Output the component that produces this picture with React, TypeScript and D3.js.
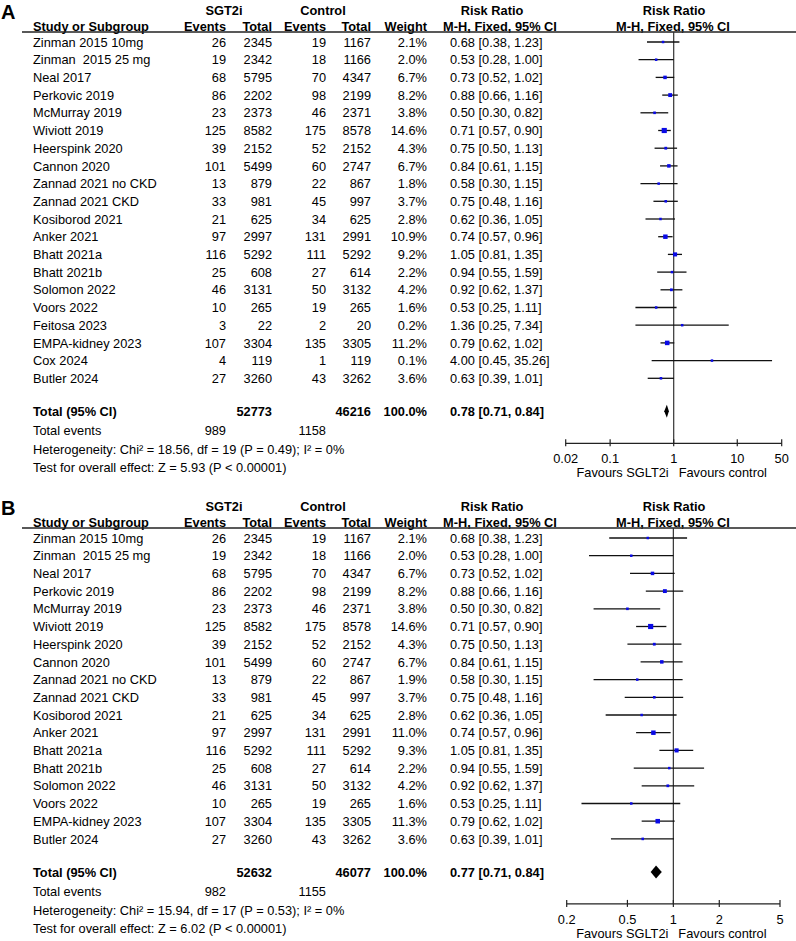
import * as d3 from 'd3'

// ---- panel A data ----
const studiesA = [
  'Zinman 2015 10mg', 'Zinman  2015 25 mg', 'Neal 2017', 'Perkovic 2019', 'McMurray 2019',
  'Wiviott 2019', 'Heerspink 2020', 'Cannon 2020', 'Zannad 2021 no CKD', 'Zannad 2021 CKD',
  'Kosiborod 2021', 'Anker 2021', 'Bhatt 2021a', 'Bhatt 2021b', 'Solomon 2022',
  'Voors 2022', 'Feitosa 2023', 'EMPA-kidney 2023', 'Cox 2024', 'Butler 2024',
]
const evTreatA = [26, 19, 68, 86, 23, 125, 39, 101, 13, 33, 21, 97, 116, 25, 46, 10, 3, 107, 4, 27]
const nTreatA = [2345, 2342, 5795, 2202, 2373, 8582, 2152, 5499, 879, 981, 625, 2997, 5292, 608, 3131, 265, 22, 3304, 119, 3260]
const evCtrlA = [19, 18, 70, 98, 46, 175, 52, 60, 22, 45, 34, 131, 111, 27, 50, 19, 2, 135, 1, 43]
const nCtrlA = [1167, 1166, 4347, 2199, 2371, 8578, 2152, 2747, 867, 997, 625, 2991, 5292, 614, 3132, 265, 20, 3305, 119, 3262]
const weightA = [2.1, 2.0, 6.7, 8.2, 3.8, 14.6, 4.3, 6.7, 1.8, 3.7, 2.8, 10.9, 9.2, 2.2, 4.2, 1.6, 0.2, 11.2, 0.1, 3.6]
const rrA = [0.68, 0.53, 0.73, 0.88, 0.50, 0.71, 0.75, 0.84, 0.58, 0.75, 0.62, 0.74, 1.05, 0.94, 0.92, 0.53, 1.36, 0.79, 4.00, 0.63]
const loA = [0.38, 0.28, 0.52, 0.66, 0.30, 0.57, 0.50, 0.61, 0.30, 0.48, 0.36, 0.57, 0.81, 0.55, 0.62, 0.25, 0.25, 0.62, 0.45, 0.39]
const hiA = [1.23, 1.00, 1.02, 1.16, 0.82, 0.90, 1.13, 1.15, 1.15, 1.16, 1.05, 0.96, 1.35, 1.59, 1.37, 1.11, 7.34, 1.02, 35.26, 1.01]
const totalA = { nT: 52773, nC: 46216, rr: 0.78, lo: 0.71, hi: 0.84, evT: 989, evC: 1158 }
const hetA = 'Heterogeneity: Chi² = 18.56, df = 19 (P = 0.49); I² = 0%'
const testA = 'Test for overall effect: Z = 5.93 (P < 0.00001)'
const ticksA = [0.02, 0.1, 1, 10, 50]

// ---- panel B data ----
const studiesB = [
  'Zinman 2015 10mg', 'Zinman  2015 25 mg', 'Neal 2017', 'Perkovic 2019', 'McMurray 2019',
  'Wiviott 2019', 'Heerspink 2020', 'Cannon 2020', 'Zannad 2021 no CKD', 'Zannad 2021 CKD',
  'Kosiborod 2021', 'Anker 2021', 'Bhatt 2021a', 'Bhatt 2021b', 'Solomon 2022',
  'Voors 2022', 'EMPA-kidney 2023', 'Butler 2024',
]
const evTreatB = [26, 19, 68, 86, 23, 125, 39, 101, 13, 33, 21, 97, 116, 25, 46, 10, 107, 27]
const nTreatB = [2345, 2342, 5795, 2202, 2373, 8582, 2152, 5499, 879, 981, 625, 2997, 5292, 608, 3131, 265, 3304, 3260]
const evCtrlB = [19, 18, 70, 98, 46, 175, 52, 60, 22, 45, 34, 131, 111, 27, 50, 19, 135, 43]
const nCtrlB = [1167, 1166, 4347, 2199, 2371, 8578, 2152, 2747, 867, 997, 625, 2991, 5292, 614, 3132, 265, 3305, 3262]
const weightB = [2.1, 2.0, 6.7, 8.2, 3.8, 14.6, 4.3, 6.7, 1.9, 3.7, 2.8, 11.0, 9.3, 2.2, 4.2, 1.6, 11.3, 3.6]
const rrB = [0.68, 0.53, 0.73, 0.88, 0.50, 0.71, 0.75, 0.84, 0.58, 0.75, 0.62, 0.74, 1.05, 0.94, 0.92, 0.53, 0.79, 0.63]
const loB = [0.38, 0.28, 0.52, 0.66, 0.30, 0.57, 0.50, 0.61, 0.30, 0.48, 0.36, 0.57, 0.81, 0.55, 0.62, 0.25, 0.62, 0.39]
const hiB = [1.23, 1.00, 1.02, 1.16, 0.82, 0.90, 1.13, 1.15, 1.15, 1.16, 1.05, 0.96, 1.35, 1.59, 1.37, 1.11, 1.02, 1.01]
const totalB = { nT: 52632, nC: 46077, rr: 0.77, lo: 0.71, hi: 0.84, evT: 982, evC: 1155 }
const hetB = 'Heterogeneity: Chi² = 15.94, df = 17 (P = 0.53); I² = 0%'
const testB = 'Test for overall effect: Z = 6.02 (P < 0.00001)'
const ticksB = [0.2, 0.5, 1, 2, 5]

const FONT = '"Liberation Sans", Arial, sans-serif'
const FS = 12.8
const ROW = 17.7
const BLUE = '#0a0ae6'

type PanelProps = {
  top: number
  letter: string
  studies: string[]
  evT: number[]
  nT: number[]
  evC: number[]
  nC: number[]
  weight: number[]
  rr: number[]
  lo: number[]
  hi: number[]
  total: { nT: number; nC: number; rr: number; lo: number; hi: number; evT: number; evC: number }
  het: string
  test: string
  ticks: number[]
  range: [number, number]
}

const ci = (r: number, l: number, h: number) => `${r.toFixed(2)} [${l.toFixed(2)}, ${h.toFixed(2)}]`
const fmtTick = (v: number) => String(v)

function Panel(p: PanelProps) {
  const x = d3.scaleLog().domain([p.ticks[0], p.ticks[p.ticks.length - 1]]).range(p.range)
  const y0 = p.top + 42
  const rowY = (i: number) => y0 + i * ROW
  const lastY = rowY(p.studies.length - 1)
  const totY = lastY + 33
  const axisY = totY + 32
  const lineY = p.top + 32
  const t = (cy: number) => cy + FS * 0.36
  const x1 = x(1)

  const num = (v: string | number, xr: number, cy: number, bold = false) => (
    <text x={xr} y={t(cy)} textAnchor="end" fontWeight={bold ? 'bold' : 'normal'}>{v}</text>
  )

  const dx = x(p.total.rr)
  const diamond = [
    [x(p.total.lo), totY], [dx, totY - 6.5], [x(p.total.hi), totY], [dx, totY + 6.5],
  ].map(d => d.join(',')).join(' ')

  return (
    <g fontFamily={FONT} fontSize={FS} fill="#000">
      <text x={1} y={p.top + 19} fontSize={20} fontWeight="bold">{p.letter}</text>

      {/* headers */}
      <g fontWeight="bold">
        <text x={224} y={t(p.top + 10)} textAnchor="middle">SGT2i</text>
        <text x={323} y={t(p.top + 10)} textAnchor="middle">Control</text>
        <text x={492} y={t(p.top + 10)} textAnchor="middle">Risk Ratio</text>
        <text x={674} y={t(p.top + 10)} textAnchor="middle">Risk Ratio</text>
        <text x={33} y={t(p.top + 26)}>Study or Subgroup</text>
        {num('Events', 226, p.top + 26, true)}
        {num('Total', 272, p.top + 26, true)}
        {num('Events', 326, p.top + 26, true)}
        {num('Total', 371, p.top + 26, true)}
        {num('Weight', 427, p.top + 26, true)}
        <text x={500} y={t(p.top + 26)} textAnchor="middle">M-H, Fixed, 95% CI</text>
        <text x={673} y={t(p.top + 26)} textAnchor="middle">M-H, Fixed, 95% CI</text>
      </g>
      <line x1={22} x2={796} y1={lineY} y2={lineY} stroke="#222" strokeWidth={1.3} />

      {/* null line */}
      <line x1={x1} x2={x1} y1={lineY} y2={axisY} stroke="#333" strokeWidth={1.2} />

      {/* study rows */}
      {p.studies.map((s, i) => {
        const cy = rowY(i)
        const side = Math.max(2.5, 1.35 * Math.sqrt(p.weight[i]))
        return (
          <g key={s + i}>
            <text x={33} y={t(cy)} style={{ whiteSpace: 'pre' }}>{s}</text>
            {num(p.evT[i], 226, cy)}
            {num(p.nT[i], 272, cy)}
            {num(p.evC[i], 326, cy)}
            {num(p.nC[i], 371, cy)}
            {num(p.weight[i].toFixed(1) + '%', 427, cy)}
            <text x={450} y={t(cy)}>{ci(p.rr[i], p.lo[i], p.hi[i])}</text>
            <line x1={x(p.lo[i])} x2={x(p.hi[i])} y1={cy} y2={cy} stroke="#111" strokeWidth={1.3} />
            <rect x={x(p.rr[i]) - side / 2} y={cy - side / 2} width={side} height={side} fill={BLUE} />
          </g>
        )
      })}

      {/* total */}
      <g fontWeight="bold">
        <text x={33} y={t(totY)}>Total (95% CI)</text>
        {num(p.total.nT, 272, totY, true)}
        {num(p.total.nC, 371, totY, true)}
        {num('100.0%', 427, totY, true)}
        <text x={450} y={t(totY)}>{ci(p.total.rr, p.total.lo, p.total.hi)}</text>
      </g>
      <polygon points={diamond} fill="#000" />
      <text x={33} y={t(totY + 19)}>Total events</text>
      {num(p.total.evT, 226, totY + 19)}
      {num(p.total.evC, 326, totY + 19)}
      <text x={33} y={t(totY + 38)}>{p.het}</text>
      <text x={33} y={t(totY + 56)}>{p.test}</text>

      {/* axis */}
      <line x1={p.range[0]} x2={p.range[1]} y1={axisY} y2={axisY} stroke="#222" strokeWidth={1.2} />
      {p.ticks.map(v => (
        <g key={v}>
          <line x1={x(v)} x2={x(v)} y1={axisY - 4} y2={axisY + 3} stroke="#222" strokeWidth={1.2} />
          <text x={x(v)} y={t(axisY + 15)} textAnchor="middle">{fmtTick(v)}</text>
        </g>
      ))}
      <text x={x1 - 5} y={t(axisY + 29)} textAnchor="end">Favours SGLT2i</text>
      <text x={x1 + 5} y={t(axisY + 29)}>Favours control</text>
    </g>
  )
}

export default function App() {
  return (
    <svg width={796} height={941} style={{ position: 'absolute', left: 0, top: 0, background: '#fff' }}>
      <rect width={796} height={941} fill="#fff" />
      <Panel
        top={0} letter="A" studies={studiesA} evT={evTreatA} nT={nTreatA} evC={evCtrlA} nC={nCtrlA}
        weight={weightA} rr={rrA} lo={loA} hi={hiA} total={totalA} het={hetA} test={testA}
        ticks={ticksA} range={[565.7, 781.7]}
      />
      <Panel
        top={496} letter="B" studies={studiesB} evT={evTreatB} nT={nTreatB} evC={evCtrlB} nC={nCtrlB}
        weight={weightB} rr={rrB} lo={loB} hi={hiB} total={totalB} het={hetB} test={testB}
        ticks={ticksB} range={[566.7, 780]}
      />
    </svg>
  )
}
